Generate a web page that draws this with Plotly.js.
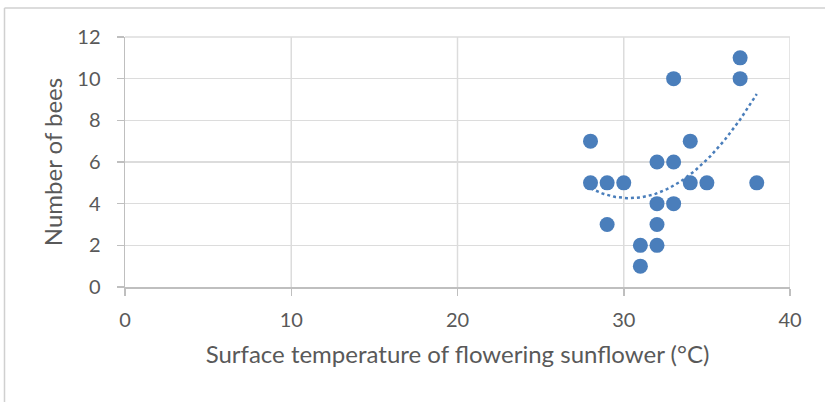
<!DOCTYPE html>
<html>
<head>
<meta charset="utf-8">
<script src="https://cdn.plot.ly/plotly-3.0.1.min.js"></script>
<style>
  html, body { margin: 0; padding: 0; background: #fff; }
  #chart { width: 825px; height: 402px; }
</style>
</head>
<body>
<div id="chart"></div>
<script>
// Surface temperature of flowering sunflowers (°C) and bee counts
const temperature = [28, 28, 29, 29, 30, 31, 31, 32, 32, 32, 32, 33, 33, 33, 34, 34, 35, 37, 37, 38];
const bees        = [ 7,  5,  5,  3,  5,  2,  1,  6,  4,  3,  2, 10,  6,  4,  7,  5,  5, 11, 10,  5];

const xTicks = [0, 10, 20, 30, 40];
const yTicks = [0, 2, 4, 6, 8, 10, 12];

// Second-order polynomial least-squares trendline
function polyFit2(xs, ys) {
  const n = xs.length;
  const xm = xs.reduce((a, b) => a + b, 0) / n;
  let s = [0, 0, 0, 0, 0], t = [0, 0, 0];
  for (let i = 0; i < n; i++) {
    const u = xs[i] - xm;
    for (let k = 0; k < 5; k++) s[k] += Math.pow(u, k);
    for (let k = 0; k < 3; k++) t[k] += ys[i] * Math.pow(u, k);
  }
  const M = [[s[0], s[1], s[2], t[0]], [s[1], s[2], s[3], t[1]], [s[2], s[3], s[4], t[2]]];
  for (let c = 0; c < 3; c++) {
    for (let r = c + 1; r < 3; r++) {
      const f = M[r][c] / M[c][c];
      for (let k = c; k < 4; k++) M[r][k] -= f * M[c][k];
    }
  }
  const coef = [0, 0, 0];
  for (let r = 2; r >= 0; r--) {
    let v = M[r][3];
    for (let k = r + 1; k < 3; k++) v -= M[r][k] * coef[k];
    coef[r] = v / M[r][r];
  }
  return x => { const u = x - xm; return coef[0] + coef[1] * u + coef[2] * u * u; };
}

const fit = polyFit2(temperature, bees);
const xMin = Math.min(...temperature), xMax = Math.max(...temperature);
const trendX = [], trendY = [];
for (let i = 0; i <= 100; i++) {
  const x = xMin + (xMax - xMin) * i / 100;
  trendX.push(x);
  trendY.push(fit(x));
}

const blue = '#4a7ebb';
const textColor = '#595959';
const gridColor = '#dcdcdc';
const font = 'Lato, "Open Sans", sans-serif';

const traces = [
  {
    x: trendX, y: trendY, type: 'scatter', mode: 'lines',
    line: { color: blue, width: 2.5, dash: 'dot' },
    hoverinfo: 'skip', showlegend: false
  },
  {
    x: temperature, y: bees, type: 'scatter', mode: 'markers',
    marker: { color: blue, size: 15, line: { width: 0 } },
    showlegend: false
  }
];

const frame = { color: '#d0d0d0', width: 1.5 };

// vertical gridlines at the x ticks, drawn below the data
const xGrid = xTicks.slice(1).map(v => ({
  type: 'line', xref: 'x', yref: 'paper', x0: v, x1: v, y0: 0, y1: 1,
  layer: 'below', line: { color: gridColor, width: 1.5 }
}));

const layout = {
  width: 825, height: 402,
  margin: { l: 125, r: 35, t: 37, b: 115 },
  paper_bgcolor: '#fff', plot_bgcolor: '#fff',
  font: { family: font, color: textColor, size: 20 },
  xaxis: {
    range: [0, 40], tickvals: xTicks, ticktext: xTicks.map(String),
    showgrid: false,
    zeroline: false, showline: true, linecolor: '#bfbfbf', linewidth: 1.5,
    ticks: 'outside', ticklen: 7, tickcolor: '#bfbfbf', tickwidth: 1.5,
    ticklabelstandoff: 7,
    tickfont: { family: font, size: 20, color: textColor },
    title: { text: 'Surface temperature of flowering sunflower (°C)', font: { family: font, size: 24, color: textColor }, standoff: 16 },
    fixedrange: true
  },
  yaxis: {
    range: [0, 12], tickvals: yTicks, ticktext: yTicks.map(String),
    showgrid: true, gridcolor: gridColor, gridwidth: 1.5,
    zeroline: false, showline: true, linecolor: '#bfbfbf', linewidth: 1.5,
    ticks: 'outside', ticklen: 7, tickcolor: '#bfbfbf', tickwidth: 1.5,
    ticklabelstandoff: 12,
    tickfont: { family: font, size: 20, color: textColor },
    title: { text: 'Number of bees', font: { family: font, size: 24, color: textColor }, standoff: 8 },
    fixedrange: true
  },
  shapes: xGrid.concat([
    // top edge of the plotting area
    { type: 'line', xref: 'paper', yref: 'paper', x0: 0, x1: 1, y0: 1, y1: 1, layer: 'below', line: { color: gridColor, width: 1.5 } },
    // chart frame
    { type: 'line', xref: 'paper', yref: 'paper', x0: -0.1812, x1: 1.06, y0: 1.116, y1: 1.116, line: frame },
    { type: 'line', xref: 'paper', yref: 'paper', x0: -0.1812, x1: -0.1812, y0: 1.116, y1: -0.47, line: frame }
  ]),
  hovermode: false
};

Plotly.newPlot('chart', traces, layout, { displayModeBar: false, staticPlot: true });
</script>
</body>
</html>
